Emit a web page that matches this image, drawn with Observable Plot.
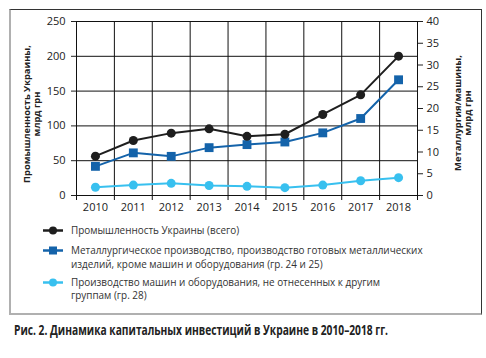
<!DOCTYPE html>
<html><head><meta charset="utf-8">
<script src="https://cdn.jsdelivr.net/npm/d3@7"></script>
<script src="https://cdn.jsdelivr.net/npm/@observablehq/plot@0.6"></script>
<style>
body{margin:0;background:#fff;width:486px;height:358px;position:relative;overflow:hidden;font-family:"Open Sans",sans-serif;}
#frame{position:absolute;left:9px;top:9px;width:470px;height:303px;border-top:1.5px solid #333;border-right:1.5px solid #333;border-left:2px solid #b0b0b0;border-bottom:2px solid #b0b0b0;}
#chart{position:absolute;left:0;top:0;}
.ytitle{position:absolute;font-weight:bold;color:#222;text-align:center;white-space:nowrap;transform:translate(-50%,-50%) rotate(-90deg);}
.item{position:absolute;left:43px;font-size:11px;color:#333;line-height:13.5px;white-space:pre;}
.item svg{position:absolute;left:0;top:0;}
.item span{position:absolute;left:28px;top:0;}
#caption{position:absolute;left:14px;top:319px;font-family:"Open Sans",sans-serif;font-weight:bold;font-size:15px;color:#222;white-space:nowrap;transform-origin:0 50%;}
</style></head>
<body>
<div id="frame"></div>
<div id="chart"></div>
<div class="ytitle" id="yl" style="left:32px;top:114px;"></div>
<div class="ytitle" id="yr" style="left:463px;top:113px;"></div>
<div id="legend"></div>
<div id="caption">Рис. 2. Динамика капитальных инвестиций в Украине в 2010–2018 гг.</div>
<script>
const years = [2010,2011,2012,2013,2014,2015,2016,2017,2018];
const industry = [56.5,79,89.6,95.8,85,88,116.4,144.6,200.2];
const metallurgy = [6.7,9.8,9.0,11.0,11.7,12.3,14.4,17.7,26.6];
const machinery = [1.9,2.4,2.8,2.3,2.1,1.8,2.4,3.4,4.1];
const leftTicks = [0,50,100,150,200,250];
const rightTicks = [0,5,10,15,20,25,30,35,40];
const seriesNames = [
  "Промышленность Украины (всего)",
  "Металлургическое производство, производство готовых металлических\nизделий, кроме машин и оборудования (гр. 24 и 25)",
  "Производство машин и оборудования, не отнесенных к другим\nгруппам (гр. 28)"
];
const leftTitle = ["Промышленность Украины,","млрд грн"];
const rightTitle = ["Металлургия/машины,","млрд грн"];
const colors = ["#1e1e1e","#1463aa","#38c0ef"];
const k = 250/40;
const bounds = years.map(y=>y-0.5).concat([years[years.length-1]+0.5]);

const rows = (vals, s, scale) => years.map((y,i)=>({year:y, v:vals[i]*scale, s}));
const dI = rows(industry,0,1), dM = rows(metallurgy,1,k), dC = rows(machinery,2,k);

const plot = Plot.plot({
  width:486, height:220,
  marginLeft:76, marginRight:69, marginTop:21, marginBottom:25,
  style:{fontFamily:"Open Sans", fontSize:"11px", color:"#222", background:"transparent"},
  x:{type:"linear", domain:[2009.5,2018.5], label:null},
  y:{domain:[0,250], label:null},
  marks:[
    Plot.ruleY(leftTicks,{stroke:"#111",strokeWidth:1}),
    Plot.ruleX(bounds,{y1:0,y2:250,stroke:"#111",strokeWidth:1}),
    Plot.axisX({ticks:bounds, tickFormat:()=>"", tickSize:5, stroke:"#111", label:null}),
    Plot.axisX({ticks:years, tickFormat:d=>String(d), tickSize:0, tickPadding:8, label:null}),
    Plot.axisY({anchor:"left", ticks:leftTicks, tickSize:5, tickPadding:6, label:null}),
    Plot.axisY({anchor:"right", ticks:rightTicks.map(v=>v*k), tickFormat:v=>String(Math.round(v/k)), tickSize:5, tickPadding:4, label:null}),
    Plot.line(dC,{x:"year",y:"v",stroke:colors[2],strokeWidth:2}),
    Plot.dot(dC,{x:"year",y:"v",fill:colors[2],r:4.5}),
    Plot.line(dM,{x:"year",y:"v",stroke:colors[1],strokeWidth:2}),
    Plot.dot(dM,{x:"year",y:"v",fill:colors[1],symbol:"square",r:5}),
    Plot.line(dI,{x:"year",y:"v",stroke:colors[0],strokeWidth:2}),
    Plot.dot(dI,{x:"year",y:"v",fill:colors[0],r:4.5})
  ]
});
document.getElementById("chart").appendChild(plot);

// text measuring helper
const cv = document.createElement("canvas").getContext("2d");
function measure(text, font){ cv.font = font; return cv.measureText(text).width; }

// legend: size font so the longest line matches the reference width
const longest = seriesNames[1].split("\n")[0];
const legendFs = 11 * 352 / measure(longest, "11px 'Open Sans'");
const itemTops = [224, 244, 275.5];
const legend = document.getElementById("legend");
seriesNames.forEach((name,i)=>{
  const it = document.createElement("div");
  it.className="item";
  it.style.top = itemTops[i] + "px";
  it.style.fontSize = legendFs + "px";
  const marker = i===1 ? `<rect x="6" y="2.5" width="8" height="8" fill="${colors[i]}"/>` : `<circle cx="10" cy="6.5" r="4" fill="${colors[i]}"/>`;
  it.innerHTML = `<svg width="22" height="14"><line x1="0" x2="20" y1="6.5" y2="6.5" stroke="${colors[i]}" stroke-width="2.5"/>${marker}</svg>`;
  const t = document.createElement("span");
  t.textContent = name;
  it.appendChild(t);
  legend.appendChild(it);
});

// axis titles
function setTitle(id, lines, target){
  const el = document.getElementById(id);
  const fs = 11 * target / measure(lines[0], "bold 11px 'Open Sans'");
  el.style.fontSize = fs + "px";
  el.style.lineHeight = (fs*1.1) + "px";
  el.innerHTML = lines.join("<br>");
}
setTitle("yl", leftTitle, 138);
setTitle("yr", rightTitle, 116);

// caption condensed to reference width
const cap = document.getElementById("caption");
const cw = measure(cap.textContent, "bold 15px 'Open Sans'");
cap.style.transform = `scaleX(${374/cw})`;
</script>
</body></html>
